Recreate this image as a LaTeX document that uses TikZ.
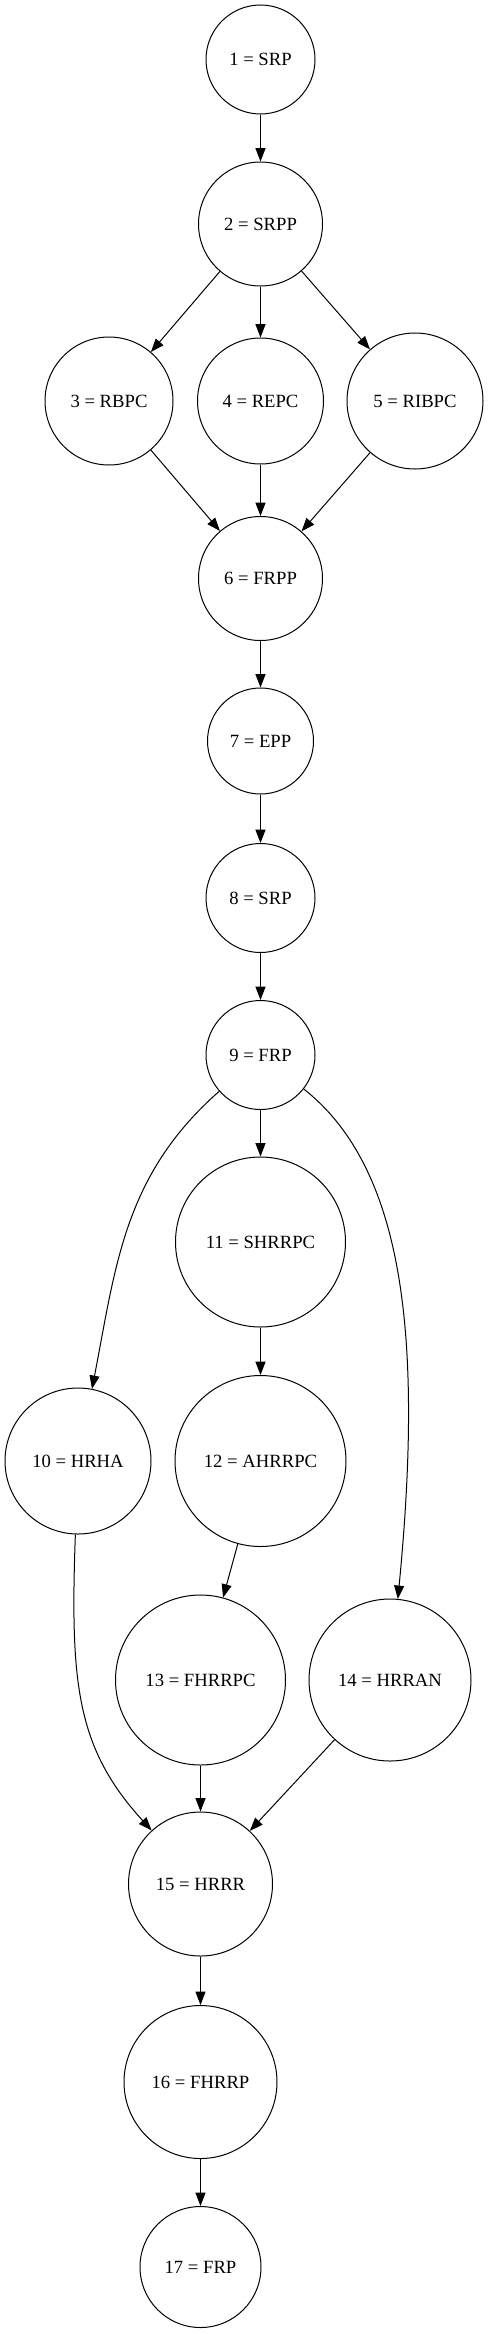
\documentclass[tikz,border=0pt]{standalone}
\usepackage{fontspec}
\setmainfont{Liberation Serif}
\usetikzlibrary{arrows.meta}
\begin{document}
\begin{tikzpicture}[x=0.75pt, y=-0.75pt, line width=0.75pt, >={Triangle[length=10pt, width=7.5pt]},
		stage/.style={circle, draw=black, inner sep=0pt, minimum size=#1*0.75pt, font=\fontsize{14}{17}\selectfont}]
			\useasboundingbox (0,0) rectangle (488,2334);
			\node[stage=109] (n1) at (260.5, 59.5) {1 = SRP};
			\node[stage=124] (n2) at (260.5, 224) {2 = SRPP};
			\node[stage=128] (n3) at (109, 401) {3 = RBPC};
			\node[stage=126] (n4) at (260.5, 401) {4 = REPC};
			\node[stage=136] (n5) at (415, 401) {5 = RIBPC};
			\node[stage=124] (n6) at (260.5, 578.5) {6 = FRPP};
			\node[stage=106] (n7) at (260.5, 741) {7 = EPP};
			\node[stage=109] (n8) at (260.5, 898) {8 = SRP};
			\node[stage=109] (n9) at (260.5, 1055) {9 = FRP};
			\node[stage=146] (n10) at (78, 1461) {10 = HRHA};
			\node[stage=170] (n11) at (260.5, 1242) {11 = SHRRPC};
			\node[stage=171] (n12) at (260.5, 1461) {12 = AHRRPC};
			\node[stage=170] (n13) at (200.5, 1680) {13 = FHRRPC};
			\node[stage=162] (n14) at (390, 1680) {14 = HRRAN};
			\node[stage=144] (n15) at (200.5, 1884) {15 = HRRR};
			\node[stage=153] (n16) at (200.5, 2082) {16 = FHRRP};
			\node[stage=121] (n17) at (200.5, 2267) {17 = FRP};
			\draw [->] (n1) -- (n2);
			\draw [->] (n2) -- (n3);
			\draw [->] (n2) -- (n4);
			\draw [->] (n2) -- (n5);
			\draw [->] (n3) -- (n6);
			\draw [->] (n4) -- (n6);
			\draw [->] (n5) -- (n6);
			\draw [->] (n6) -- (n7);
			\draw [->] (n7) -- (n8);
			\draw [->] (n8) -- (n9);
			\draw [->] (n9) .. controls (124, 1175) and (116, 1265) .. (n10);
			\draw [->] (n9) -- (n11);
			\draw [->] (n9) .. controls (408, 1171) and (422, 1349) .. (n14);
			\draw [->] (n11) -- (n12);
			\draw [->] (n12) -- (n13);
			\draw [->] (n10) .. controls (70, 1684) and (76.5, 1748) .. (n15);
			\draw [->] (n13) -- (n15);
			\draw [->] (n14) -- (n15);
			\draw [->] (n15) -- (n16);
			\draw [->] (n16) -- (n17);
		\end{tikzpicture}
\end{document}
